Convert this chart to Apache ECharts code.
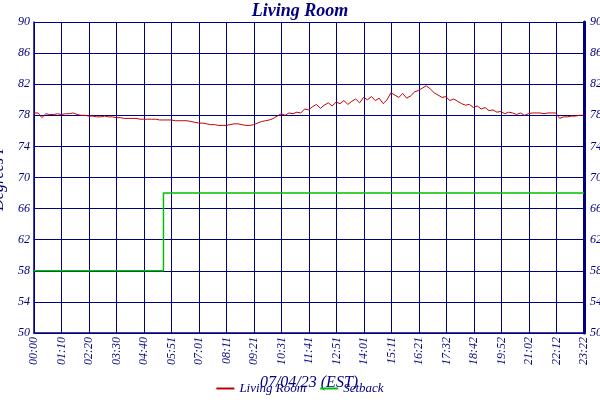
<!DOCTYPE html>
<html><head><meta charset="utf-8">
<script src="https://cdn.jsdelivr.net/npm/echarts@6/dist/echarts.min.js"></script>
<style>html,body{margin:0;padding:0;background:#fff}#c{width:600px;height:400px}</style>
</head><body><div id="c"></div>
<script>
const stepMinutes = 10;
const livingRoom = [
78.3,78.3,77.7,78.2,78.1,78.1,78.2,78.1,78.2,78.2,78.3,
78.1,78.0,78.0,77.9,77.9,77.8,77.8,77.9,77.8,77.8,
77.7,77.7,77.6,77.6,77.6,77.6,77.5,77.5,77.5,77.5,
77.5,77.4,77.4,77.4,77.4,77.3,77.3,77.3,77.3,77.2,
77.1,77.0,77.0,76.9,76.8,76.8,76.7,76.7,76.7,76.8,
76.9,76.9,76.8,76.7,76.7,76.8,77.0,77.2,77.3,77.4,
77.6,77.9,78.2,78.0,78.3,78.2,78.4,78.3,78.8,78.7,
79.1,79.4,78.9,79.3,79.6,79.2,79.7,79.5,79.9,79.4,
79.8,80.1,79.6,80.3,80.0,80.4,79.9,80.2,79.5,80.0,
80.9,80.6,80.3,80.8,80.2,80.5,81.0,81.2,81.5,81.8,
81.4,80.9,80.6,80.3,80.4,79.9,80.1,79.8,79.5,79.3,
79.4,79.0,79.2,78.8,79.0,78.6,78.7,78.4,78.5,78.2,
78.4,78.3,78.1,78.3,78.0,78.2,78.3,78.3,78.3,78.2,
78.3,78.3,78.3,77.6,77.8,77.8,77.9,77.9,78.0,78.0
];
const setbackTimes = [0, 330, 330, 1402];
const setbackValues = [58, 58, 68, 68];
const xMin = 0, xMax = 1402, xInterval = 1402/20;
const yMin = 50, yMax = 90, yInterval = 4;

const navy = '#000080';
const font = 'Liberation Serif';
const lrData = livingRoom.map((v,i)=>[i*stepMinutes, v]);
const sbData = setbackTimes.map((t,i)=>[t, setbackValues[i]]);
const fmt = x => { const m = Math.round(x); return String(Math.floor(m/60)).padStart(2,'0')+':'+String(m%60).padStart(2,'0'); };
const lbl = {color:navy, fontFamily:font, fontStyle:'italic', fontSize:12};
const chart = echarts.init(document.getElementById('c'));
chart.setOption({
  animation:false,
  title:{text:'Living Room', left:'center', top:-3, textStyle:{color:navy,fontFamily:font,fontStyle:'italic',fontWeight:'bold',fontSize:18}},
  legend:{bottom:0, itemWidth:18, itemHeight:2, icon:'rect', itemGap:14, textStyle:{color:navy,fontFamily:font,fontStyle:'italic',fontSize:13}, data:['Living Room','Setback']},
  grid:{left:34, right:16, top:22, bottom:67, containLabel:false, outerBoundsMode:'none'},
  xAxis:{type:'value', min:xMin, max:xMax, interval:xInterval,
    name:'07/04/23 (EST)', nameLocation:'middle', nameGap:42, nameTextStyle:{color:navy,fontFamily:font,fontStyle:'italic',fontSize:16},
    axisLine:{lineStyle:{color:navy,width:1.5}}, axisTick:{show:false},
    axisLabel:Object.assign({rotate:90, formatter:v=>fmt(v), showMaxLabel:true, margin:4}, lbl),
    splitLine:{lineStyle:{color:navy,width:1}}},
  yAxis:[{type:'value', min:yMin, max:yMax, interval:yInterval,
    name:'Degrees F', nameLocation:'middle', nameGap:24, nameTextStyle:{color:navy,fontFamily:font,fontStyle:'italic',fontSize:16},
    axisLine:{show:true,lineStyle:{color:navy,width:1.5}}, axisTick:{show:false}, axisLabel:Object.assign({margin:4},lbl),
    splitLine:{lineStyle:{color:navy,width:1}}},
    {type:'value', min:yMin, max:yMax, interval:yInterval, position:'right',
    axisLine:{show:true,lineStyle:{color:navy,width:3}}, axisTick:{show:false}, axisLabel:Object.assign({margin:6},lbl), splitLine:{show:false}}],
  series:[
    {name:'Living Room', type:'line', data:lrData, showSymbol:false, lineStyle:{color:'#c00000',width:1}, itemStyle:{color:'#c00000'}},
    {name:'Setback', type:'line', data:sbData, showSymbol:false, lineStyle:{color:'#00c000',width:1.5}, itemStyle:{color:'#00c000'}}
  ]
});
</script></body></html>
